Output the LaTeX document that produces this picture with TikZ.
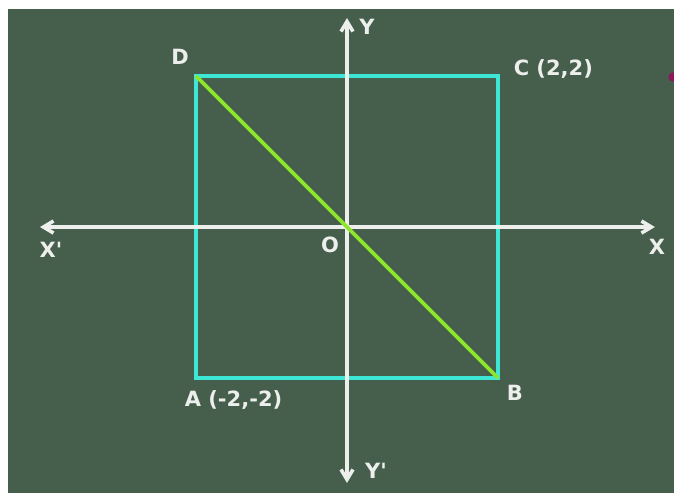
\documentclass[tikz,border=0pt]{standalone}
\usepackage{fontspec}
\setmainfont{DejaVu Sans}
\usetikzlibrary{arrows.meta, calc, positioning}

\definecolor{board}{HTML}{465E4C}
\definecolor{chalk}{HTML}{ECEFEC}
\definecolor{sqcyan}{HTML}{3EE6D6}
\definecolor{diaggreen}{HTML}{8EE62A}
\definecolor{pendot}{HTML}{8A1A5A}

\begin{document}
\begin{tikzpicture}[x=1.3268cm, y=1.3268cm, line width=1.8pt,
    >={Straight Barb[length=5pt, width=6pt]},
    lbl/.style={text=chalk, inner sep=0pt, font=\bfseries\fontsize{10.5}{12}\selectfont}]
        % 칠판 배경
        \useasboundingbox[fill=white] (-4.596, -3.550) rectangle (4.371, 3.007);
        \fill[board] (-4.490, -3.523) rectangle (4.331, 2.887);
        \begin{scope}
            \clip (-4.490, -3.523) rectangle (4.331, 2.887);
            \fill[pendot] (4.318, 1.987) circle (0.062);
        \end{scope}

        % 좌표축 끝점
        \coordinate (xl) at (-4.066, 0);
        \coordinate (xr) at (4.079, 0);
        \coordinate (yt) at (0, 2.768);
        \coordinate (yb) at (0, -3.39);

        % 정사각형의 꼭짓점
        \coordinate (A) at (-2, -2);
        \coordinate (B) at (2, -2);
        \coordinate (C) at (2, 2);
        \coordinate (D) at (-2, 2);
        \coordinate (O) at (0, 0);

        % 정사각형 ABCD (청록색)
        \draw[sqcyan] (A) -- (B) -- (C) -- (D) -- cycle;

        % 좌표축 (흰색 화살표)
        \draw[<->, chalk] (xl) -- (xr);
        \draw[<->, chalk] (yb) -- (yt);

        % 대각선 DB
        \draw[diaggreen] (D) -- (O) -- (B);

        % 라벨
        \node[lbl] (labD) at (-2.212, 2.252) {D};
        \node[lbl, anchor=west] (labC) at (2.185, 2.093) {C (2,2)};
        \node[lbl] (labA) at (-1.503, -2.291) {A (-2,-2)};
        \node[lbl] (labB) at (2.225, -2.199) {B};
        \node[lbl] (labO) at (-0.225, -0.238) {O};
        \node[lbl] (labX) at (4.106, -0.265) {X};
        \node[lbl] (labXp) at (-3.921, -0.305) {X\textquotesingle};
        \node[lbl] (labY) at (0.265, 2.649) {Y};
        \node[lbl] (labYp) at (0.384, -3.232) {Y\textquotesingle};

    \end{tikzpicture}
\end{document}
